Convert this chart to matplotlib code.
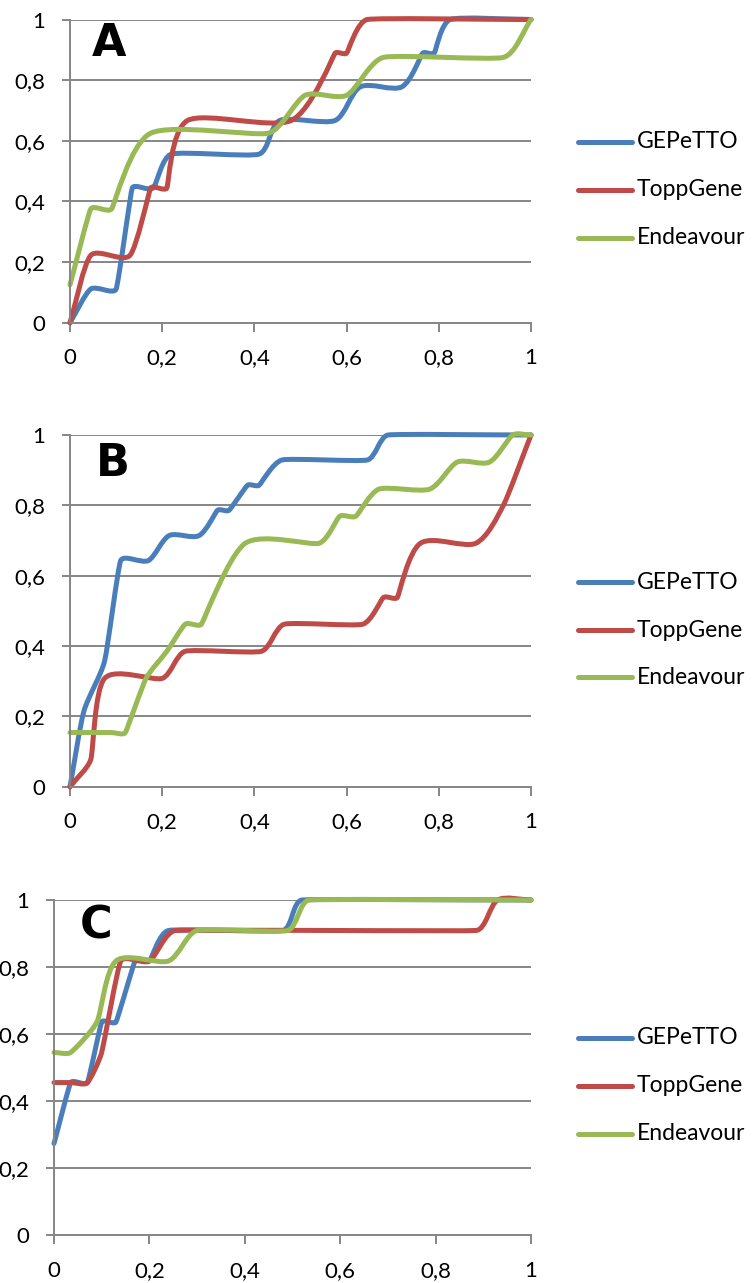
import numpy as np
import matplotlib
matplotlib.use("Agg")
import matplotlib.pyplot as plt
from matplotlib.path import Path
from matplotlib.patches import PathPatch
from matplotlib.lines import Line2D
from matplotlib.ticker import FuncFormatter

plt.rcParams['font.family'] = ['Lato', 'DejaVu Sans']

names = ['GEPeTTO', 'ToppGene', 'Endeavour']
colors = ['#4A7EBB', '#BE4B48', '#98B954']

# panel A
a_gep_x = [0, 0.045, 0.10, 0.135, 0.18, 0.22, 0.41, 0.455, 0.575, 0.63, 0.72, 0.765, 0.79, 0.825, 1]
a_gep_y = [0, 0.111, 0.111, 0.444, 0.444, 0.556, 0.556, 0.667, 0.667, 0.778, 0.778, 0.889, 0.889, 1, 1]
a_top_x = [0, 0.045, 0.13, 0.175, 0.21, 0.255, 0.48, 0.575, 0.60, 0.645, 1]
a_top_y = [0, 0.222, 0.222, 0.444, 0.444, 0.667, 0.667, 0.889, 0.889, 1, 1]
a_end_x = [0, 0.045, 0.09, 0.175, 0.43, 0.51, 0.60, 0.68, 0.94, 1]
a_end_y = [0.125, 0.375, 0.375, 0.625, 0.625, 0.75, 0.75, 0.875, 0.875, 1]

# panel B
b_gep_x = [0, 0.03, 0.075, 0.11, 0.17, 0.215, 0.28, 0.32, 0.345, 0.385, 0.41, 0.46, 0.645, 0.69, 1]
b_gep_y = [0, 0.214, 0.357, 0.643, 0.643, 0.714, 0.714, 0.786, 0.786, 0.857, 0.857, 0.929, 0.929, 1, 1]
b_top_x = [0, 0.045, 0.075, 0.20, 0.25, 0.415, 0.465, 0.635, 0.68, 0.71, 0.76, 0.88, 0.94, 1]
b_top_y = [0, 0.077, 0.308, 0.308, 0.385, 0.385, 0.462, 0.462, 0.538, 0.538, 0.692, 0.692, 0.80, 1]
b_end_x = [0, 0.09, 0.12, 0.165, 0.21, 0.25, 0.285, 0.38, 0.54, 0.585, 0.62, 0.67, 0.78, 0.84, 0.91, 0.96, 1]
b_end_y = [0.154, 0.154, 0.154, 0.308, 0.385, 0.462, 0.462, 0.692, 0.692, 0.769, 0.769, 0.846, 0.846, 0.923, 0.923, 1, 1]

# panel C
c_gep_x = [0, 0.035, 0.07, 0.10, 0.13, 0.17, 0.20, 0.24, 0.48, 0.52, 1]
c_gep_y = [0.273, 0.455, 0.455, 0.636, 0.636, 0.818, 0.818, 0.909, 0.909, 1, 1]
c_top_x = [0, 0.035, 0.07, 0.10, 0.14, 0.20, 0.255, 0.885, 0.93, 1]
c_top_y = [0.455, 0.455, 0.455, 0.545, 0.818, 0.818, 0.909, 0.909, 1, 1]
c_end_x = [0, 0.035, 0.09, 0.13, 0.24, 0.30, 0.49, 0.535, 1]
c_end_y = [0.545, 0.545, 0.636, 0.818, 0.818, 0.909, 0.909, 1, 1]

panels = [
    ('A', [(a_gep_x, a_gep_y), (a_top_x, a_top_y), (a_end_x, a_end_y)]),
    ('B', [(b_gep_x, b_gep_y), (b_top_x, b_top_y), (b_end_x, b_end_y)]),
    ('C', [(c_gep_x, c_gep_y), (c_top_x, c_top_y), (c_end_x, c_end_y)]),
]

# axes boxes in pixels: left, top, right, bottom
W, H = 756, 1283
boxes = [(70, 19.5, 531, 322.7), (70, 435, 531, 786.7), (54, 900, 531, 1235)]
legend_rows = [(142, 190, 238), (582, 630, 677), (1038, 1086, 1134)]
letter_pos = [(0.085, 0.92), (0.092, 0.918), (0.088, 0.921)]


def smooth_path(xs, ys, sx, sy, k=0.27):
    # Excel style smoothed line: cubic bezier through the points.
    # Handles are worked out in screen units and capped by the shorter
    # neighbouring segment, so long flats stay flat and nothing loops.
    p = np.column_stack([np.asarray(xs) * sx, np.asarray(ys) * sy]).astype(float)
    n = len(p)
    seg = np.hypot(*(p[1:] - p[:-1]).T)
    tang, hlen = [], []
    for i in range(n):
        a = p[i - 1] if i > 0 else p[i]
        d = p[i + 1] if i < n - 1 else p[i]
        tv = d - a
        tang.append(tv / (np.hypot(*tv) or 1))
        near = [seg[j] for j in (i - 1, i) if 0 <= j < n - 1]
        hlen.append(min(near) * k)
    verts = [p[0]]
    codes = [Path.MOVETO]
    for i in range(n - 1):
        h1 = min(hlen[i], seg[i] / 3)
        h2 = min(hlen[i + 1], seg[i] / 3)
        verts += [p[i] + tang[i] * h1, p[i + 1] - tang[i + 1] * h2, p[i + 1]]
        codes += [Path.CURVE4] * 3
    verts = np.array(verts) / [sx, sy]
    return Path(verts, codes)


fig = plt.figure(figsize=(W / 100, H / 100), dpi=100)
grey = '#868686'
fmt = FuncFormatter(lambda v, pos: ('%g' % round(v, 1)).replace('.', ','))

for k, (letter, series) in enumerate(panels):
    l, t, r, b = boxes[k]
    ax = fig.add_axes([l / W, 1 - b / H, (r - l) / W, (b - t) / H])
    ax.set_xlim(0, 1)
    ax.set_ylim(0, 1)
    ax.set_xticks(np.arange(0, 1.01, 0.2))
    ax.set_yticks(np.arange(0, 1.01, 0.2))
    ax.xaxis.set_major_formatter(fmt)
    ax.yaxis.set_major_formatter(fmt)
    ax.grid(axis='y', color=grey, lw=1.4)
    ax.set_axisbelow(True)
    for s in ['top', 'right']:
        ax.spines[s].set_visible(False)
    for s in ['left', 'bottom']:
        ax.spines[s].set_color(grey)
        ax.spines[s].set_linewidth(1.4)
    ax.tick_params(axis='x', length=6.5, width=1.4, color=grey, pad=12, labelsize=16)
    ax.tick_params(axis='y', length=6, width=1.4, color=grey, pad=12, labelsize=16)

    for (xs, ys), c in zip(series, colors):
        patch = PathPatch(smooth_path(xs, ys, r - l, b - t), facecolor='none', edgecolor=c,
                          lw=3.6, capstyle='round', joinstyle='round', clip_on=False)
        ax.add_patch(patch)

    lx, ly = letter_pos[k]
    ax.text(lx, ly, letter, transform=ax.transAxes, ha='center', va='center',
            fontsize=32, fontweight='bold', family='DejaVu Sans')

    for name, c, yy in zip(names, colors, legend_rows[k]):
        fig.add_artist(Line2D([578 / W, 632 / W], [1 - yy / H, 1 - yy / H],
                              color=c, lw=3.6, solid_capstyle='round'))
        fig.text(637 / W, 1 - yy / H, name, fontsize=16.5, va='center', ha='left')

fig.savefig('out.png', dpi=100)
